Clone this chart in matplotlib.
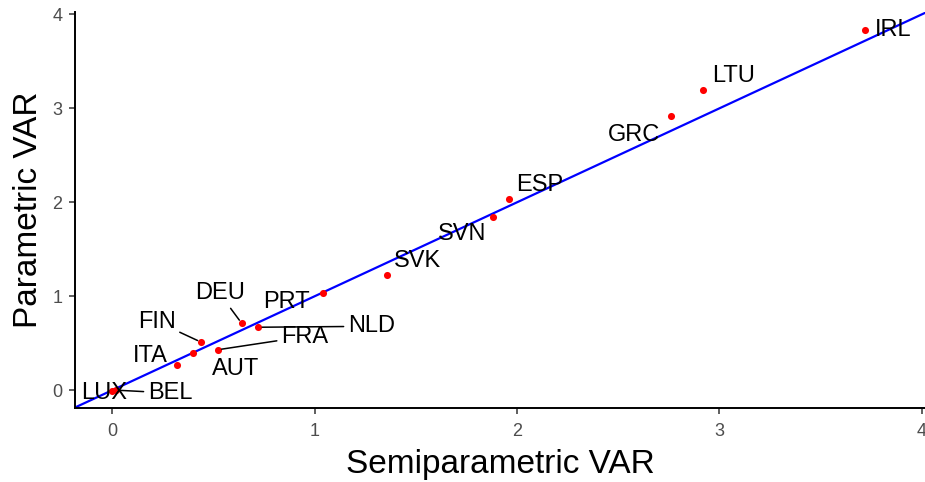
import matplotlib
matplotlib.use("Agg")
import matplotlib.pyplot as plt

plt.rcParams['font.family'] = ['Liberation Sans', 'DejaVu Sans']

countries = ['IRL', 'LTU', 'GRC', 'ESP', 'SVN', 'SVK', 'PRT', 'NLD', 'DEU',
             'FIN', 'FRA', 'AUT', 'ITA', 'LUX', 'BEL']
semiparametric = [3.72, 2.92, 2.76, 1.96, 1.88, 1.36, 1.04, 0.72, 0.64,
                  0.44, 0.52, 0.40, 0.32, 0.00, 0.02]
parametric = [3.84, 3.20, 2.92, 2.04, 1.84, 1.23, 1.03, 0.67, 0.71,
              0.51, 0.43, 0.40, 0.27, -0.01, 0.00]

# where the repelled labels sit (data coords) and whether a segment is drawn
label_pos = {
    'IRL': (3.86, 3.83, False), 'LTU': (3.07, 3.34, False),
    'GRC': (2.58, 2.72, False), 'ESP': (2.11, 2.18, False),
    'SVN': (1.73, 1.66, False), 'SVK': (1.51, 1.37, False),
    'PRT': (0.86, 0.94, False), 'NLD': (1.28, 0.68, True),
    'DEU': (0.53, 1.03, True), 'FIN': (0.22, 0.73, True),
    'FRA': (0.95, 0.57, True), 'AUT': (0.61, 0.23, False),
    'ITA': (0.19, 0.36, False), 'LUX': (-0.04, -0.03, False),
    'BEL': (0.285, -0.03, True),
}

fig = plt.figure(figsize=(9.25, 4.82), dpi=100)
ax = fig.add_axes([0.081, 0.1535, 0.919, 0.8215])

ax.axline((0, 0), slope=1, color='#0000FF', lw=1.6, zorder=2)
ax.scatter(semiparametric, parametric, s=26, color='#FF0000', zorder=3,
           linewidths=0)

for c, x, y in zip(countries, semiparametric, parametric):
    lx, ly, seg = label_pos[c]
    if seg:
        ax.annotate(c, xy=(x, y), xytext=(lx, ly), ha='center', va='center',
                    fontsize=17, color='black', zorder=4,
                    arrowprops=dict(arrowstyle='-', color='black', lw=1.1,
                                    shrinkA=1, shrinkB=3))
    else:
        ax.text(lx, ly, c, ha='center', va='center', fontsize=17,
                color='black', zorder=4)

ax.set_xlim(-0.185, 4.017)
ax.set_ylim(-0.19, 4.026)
ax.set_xticks([0, 1, 2, 3, 4])
ax.set_yticks([0, 1, 2, 3, 4])
ax.tick_params(colors='#333333', labelcolor='#4D4D4D', labelsize=13,
               length=4, width=1.1)
ax.tick_params(axis='x', pad=6.5)
ax.tick_params(axis='y', pad=5)
for s in ['top', 'right']:
    ax.spines[s].set_visible(False)
for s in ['left', 'bottom']:
    ax.spines[s].set_linewidth(1.4)
    ax.spines[s].set_color('black')

ax.set_xlabel('Semiparametric VAR', fontsize=24, labelpad=7)
ax.set_ylabel('Parametric VAR', fontsize=24, labelpad=6)

fig.savefig('out.png', dpi=100)
